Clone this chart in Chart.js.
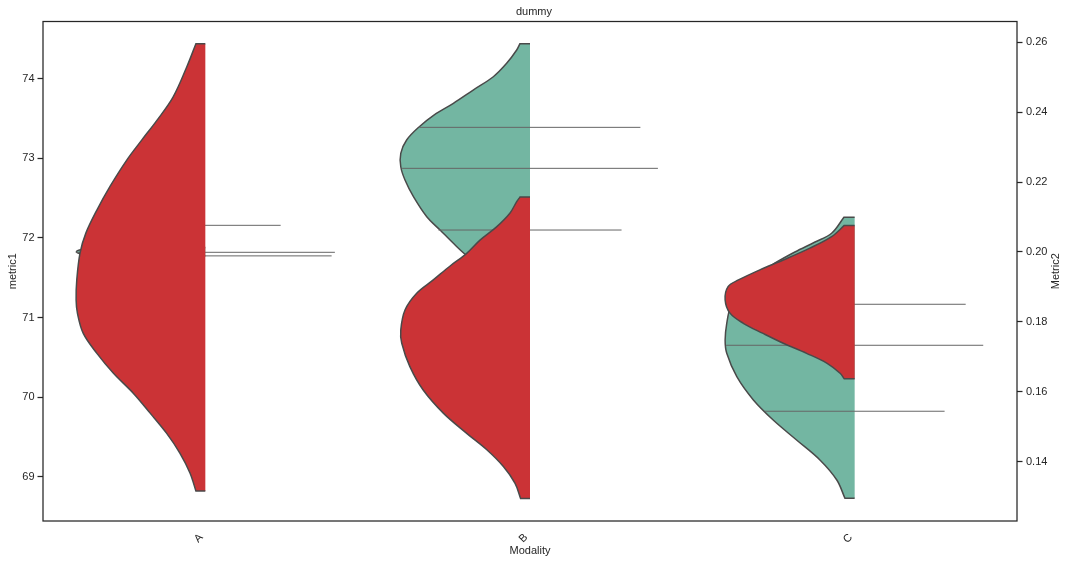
<!DOCTYPE html>
<html>
<head>
<meta charset="utf-8">
<title>dummy</title>
<script src="https://cdn.jsdelivr.net/npm/chart.js"></script>
<style>
body { margin: 0; background: white; }
</style>
</head>
<body>
<canvas id="myChart" width="1068" height="564"></canvas>
<script>
// categories and ticks
const categories = ["A", "B", "C"];
const metric1Ticks = [69, 70, 71, 72, 73, 74];
const metric2Ticks = [0.14, 0.16, 0.18, 0.20, 0.22, 0.24, 0.26];

// violin outlines: value along the axis, half width in category units
// metric1 (left axis, green)
const metric1_A_y = [71.879, 71.854, 71.827, 71.798, 71.773];
const metric1_A_w = [0.324, 0.380, 0.397, 0.380, 0.324];
const metric1_B_y = [74.440, 74.361, 74.193, 74.025, 73.858, 73.691, 73.544, 73.397, 73.230, 73.063, 72.894, 72.727, 72.518, 72.266, 72.099, 71.932, 71.785, 71.660, 71.521, 71.396, 71.320];
const metric1_B_w = [0.031, 0.041, 0.072, 0.113, 0.175, 0.236, 0.296, 0.341, 0.380, 0.398, 0.398, 0.385, 0.359, 0.318, 0.277, 0.236, 0.197, 0.154, 0.108, 0.062, 0.037];
const metric1_C_y = [72.259, 72.058, 71.948, 71.823, 71.685, 71.521, 71.345, 71.157, 70.927, 70.717, 70.550, 70.256, 69.964, 69.712, 69.461, 69.210, 68.958, 68.729];
const metric1_C_w = [0.033, 0.071, 0.122, 0.184, 0.245, 0.307, 0.353, 0.381, 0.394, 0.399, 0.394, 0.363, 0.312, 0.251, 0.179, 0.107, 0.055, 0.030];

// Metric2 (right axis, red)
const metric2_A_y = [0.2596, 0.2530, 0.2444, 0.2378, 0.2320, 0.2263, 0.2187, 0.2120, 0.2054, 0.1997, 0.1920, 0.1863, 0.1825, 0.1767, 0.1710, 0.1653, 0.1596, 0.1539, 0.1481, 0.1424, 0.1367, 0.1316];
const metric2_A_w = [0.029, 0.057, 0.099, 0.148, 0.196, 0.242, 0.294, 0.334, 0.368, 0.386, 0.396, 0.398, 0.394, 0.376, 0.334, 0.283, 0.222, 0.170, 0.119, 0.078, 0.047, 0.029];
const metric2_B_y = [0.2157, 0.2144, 0.2111, 0.2072, 0.2034, 0.1996, 0.1960, 0.1920, 0.1882, 0.1834, 0.1777, 0.1739, 0.1672, 0.1605, 0.1539, 0.1481, 0.1434, 0.1386, 0.1338, 0.1295];
const metric2_B_w = [0.031, 0.041, 0.062, 0.103, 0.154, 0.195, 0.246, 0.298, 0.349, 0.385, 0.398, 0.395, 0.370, 0.329, 0.267, 0.195, 0.133, 0.082, 0.046, 0.029];
const metric2_C_y = [0.2076, 0.2044, 0.2011, 0.1977, 0.1949, 0.1920, 0.1901, 0.1863, 0.1825, 0.1796, 0.1767, 0.1739, 0.1710, 0.1682, 0.1653, 0.1637];
const metric2_C_w = [0.032, 0.071, 0.138, 0.220, 0.292, 0.358, 0.390, 0.399, 0.384, 0.343, 0.282, 0.220, 0.148, 0.086, 0.045, 0.032];

// metric1 quartile lines (value, half length)
const metric1_quart_A = [72.158, 71.819, 71.774];
const metric1_quart_A_w = [0.232, 0.399, 0.389];
const metric1_quart_B = [73.389, 72.874, 72.099];
const metric1_quart_B_w = [0.340, 0.394, 0.282];
const metric1_quart_C = [71.166, 70.651, 69.822];
const metric1_quart_C_w = [0.342, 0.396, 0.277];

const green = "#73b6a2";
const red = "#cb3336";
const edge = "#4a4a4a";
const dark = "#262626";
const rightTitle = "Metric2";

function violin(c, ys, ws, axis, color, order) {
	const last = ys.length - 1;
	// corners are doubled so the curve keeps the flat caps straight
	let pts = [{x: c, y: ys[0]}, {x: c - ws[0], y: ys[0]}];
	ys.forEach((y, i) => pts.push({x: c - ws[i], y: y}));
	pts.push({x: c - ws[last], y: ys[last]});
	pts.push({x: c, y: ys[last]});
	return {
		data: pts,
		yAxisID: axis,
		backgroundColor: color,
		borderColor: edge,
		borderWidth: 1.5,
		pointRadius: 0,
		tension: 0.35,
		fill: {value: c},
		order: order
	};
}

function quartiles(c, vals, ws) {
	return vals.map((v, i) => ({
		data: [{x: c - ws[i], y: v}, {x: c + ws[i], y: v}],
		yAxisID: "y",
		borderColor: "#666666",
		borderWidth: 1,
		pointRadius: 0,
		fill: false,
		order: 2
	}));
}

const datasets = [
	violin(0, metric1_A_y, metric1_A_w, "y", green, 3),
	violin(1, metric1_B_y, metric1_B_w, "y", green, 3),
	violin(2, metric1_C_y, metric1_C_w, "y", green, 3),
	...quartiles(0, metric1_quart_A, metric1_quart_A_w),
	...quartiles(1, metric1_quart_B, metric1_quart_B_w),
	...quartiles(2, metric1_quart_C, metric1_quart_C_w),
	violin(0, metric2_A_y, metric2_A_w, "y2", red, 1),
	violin(1, metric2_B_y, metric2_B_w, "y2", red, 1),
	violin(2, metric2_C_y, metric2_C_w, "y2", red, 1)
];

const font = {family: "'Liberation Sans', Arial, sans-serif", size: 11, weight: "normal"};

// frame round the plot + right axis title read bottom to top like matplotlib
const frame = {
	id: "frame",
	afterDraw(chart) {
		const a = chart.chartArea;
		const ctx = chart.ctx;
		ctx.save();
		ctx.strokeStyle = dark;
		ctx.lineWidth = 1.25;
		ctx.strokeRect(a.left, a.top, a.right - a.left, a.bottom - a.top);
		ctx.translate(chart.scales.y2.right - 12, (a.top + a.bottom) / 2);
		ctx.rotate(-Math.PI / 2);
		ctx.fillStyle = dark;
		ctx.font = "11px 'Liberation Sans', Arial, sans-serif";
		ctx.textAlign = "center";
		ctx.textBaseline = "middle";
		ctx.fillText(rightTitle, 0, 0);
		ctx.restore();
	}
};

Chart.defaults.color = dark;

new Chart("myChart", {
	type: "line",
	data: {datasets: datasets},
	plugins: [frame],
	options: {
		responsive: false,
		animation: false,
		indexAxis: "y",
		layout: {padding: 0},
		plugins: {
			legend: {display: false},
			tooltip: {enabled: false},
			title: {display: true, text: "dummy", font: font, color: dark, padding: {top: 5, bottom: 3.3}}
		},
		scales: {
			x: {
				type: "linear",
				position: "bottom",
				min: -0.5,
				max: 2.5,
				afterBuildTicks: s => { s.ticks = categories.map((c, i) => ({value: i})); },
				afterFit: s => { s.height = 43; },
				ticks: {
					callback: v => categories[v],
					minRotation: 45,
					maxRotation: 45,
					padding: 10,
					labelOffset: -4,
					font: font,
					color: dark
				},
				grid: {display: false, drawTicks: false},
				border: {display: false},
				title: {display: true, text: "Modality", font: font, color: dark, padding: {top: 0, bottom: 6.4}}
			},
			y: {
				type: "linear",
				position: "left",
				min: 68.443,
				max: 74.719,
				afterBuildTicks: s => { s.ticks = metric1Ticks.map(v => ({value: v})); },
				afterFit: s => { s.width = 43; },
				ticks: {font: font, color: dark, padding: 3},
				grid: {drawOnChartArea: false, drawTicks: true, tickLength: 5.5, tickWidth: 1.25, tickColor: dark},
				border: {display: false},
				title: {display: true, text: "metric1", font: font, color: dark, padding: {top: 6.4, bottom: 0}}
			},
			y2: {
				type: "linear",
				position: "right",
				min: 0.12303,
				max: 0.26595,
				afterBuildTicks: s => { s.ticks = metric2Ticks.map(v => ({value: v})); },
				afterFit: s => { s.width = 51; },
				ticks: {font: font, color: dark, padding: 3.5, callback: v => v.toFixed(2)},
				grid: {drawOnChartArea: false, drawTicks: true, tickLength: 5.5, tickWidth: 1.25, tickColor: dark},
				border: {display: false},
				title: {display: false}
			}
		}
	}
});
</script>
</body>
</html>
